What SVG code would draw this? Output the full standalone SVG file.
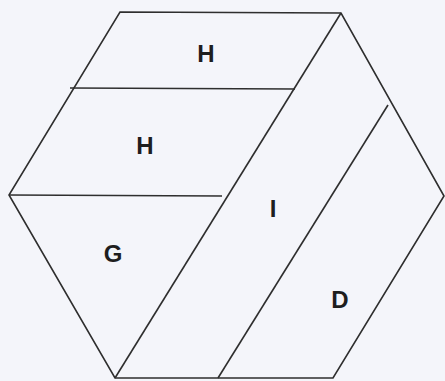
<svg xmlns="http://www.w3.org/2000/svg" width="445" height="381" viewBox="0 0 445 381">
<style>
.ln{fill:none;stroke:#2e2e2e;stroke-width:1.6;stroke-linejoin:miter}
.lb{font-family:"Liberation Sans",Arial,sans-serif;font-weight:bold;font-size:24px;fill:#1e1e1e;text-anchor:middle}
</style>
<rect width="445" height="381" fill="#f4f5fa"/>
<g id="connectors">
<polygon class="ln" points="120,12 341,13 444,196 333,378 115,378 9,195"/>
<line class="ln" x1="70" y1="88" x2="295" y2="89"/>
<line class="ln" x1="9" y1="195" x2="222" y2="196"/>
<line class="ln" x1="341" y1="13" x2="115" y2="378"/>
<line class="ln" x1="388" y1="105" x2="218" y2="378"/>
</g>
<g id="node-H1"><text class="lb" x="206" y="62">H</text></g>
<g id="node-H2"><text class="lb" x="145" y="154">H</text></g>
<g id="node-I"><text class="lb" x="273" y="217">I</text></g>
<g id="node-G"><text class="lb" x="113" y="262">G</text></g>
<g id="node-D"><text class="lb" x="340" y="308">D</text></g>
</svg>
